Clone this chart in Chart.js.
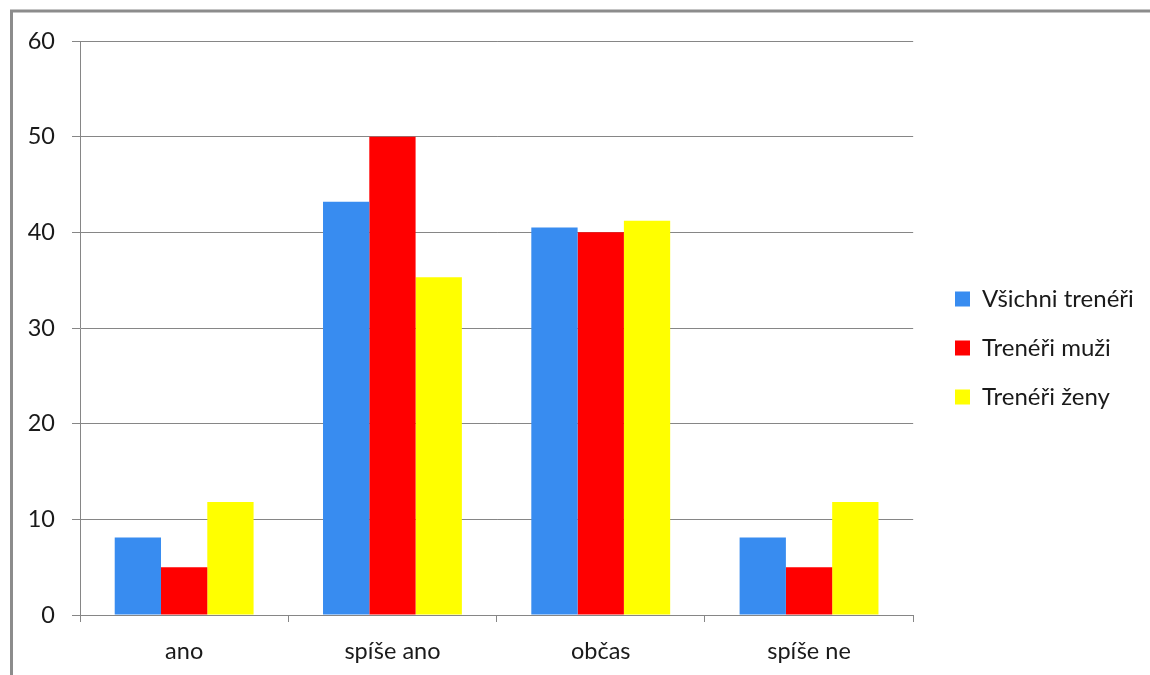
<!DOCTYPE html>
<html>
<head>
<meta charset="utf-8">
<script src="https://cdn.jsdelivr.net/npm/chart.js@4/dist/chart.umd.min.js"></script>
<style>
html,body{margin:0;padding:0;background:#fff;overflow:hidden;}
#wrap{width:1150px;height:675px;position:relative;}
</style>
</head>
<body>
<div id="wrap"><canvas id="c" width="1150" height="675"></canvas></div>
<script>
const categories = ["ano", "spíše ano", "občas", "spíše ne"];
const seriesNames = ["Všichni trenéři", "Trenéři muži", "Trenéři ženy"];
const allCoaches = [8.1, 43.2, 40.5, 8.1];
const maleCoaches = [5, 50, 40, 5];
const femaleCoaches = [11.8, 35.3, 41.2, 11.8];
const yTicks = [0, 10, 20, 30, 40, 50, 60];

const colors = ["#388cf0", "#ff0000", "#ffff00"];
const FONT = "Lato, 'Open Sans', sans-serif";
const LEGEND_BOX_X = 955;
const LEGEND_DY = -10;

const framePlugin = {
  id: 'frame',
  beforeDraw(chart) {
    const ctx = chart.ctx;
    ctx.save();
    ctx.fillStyle = '#ffffff';
    ctx.fillRect(0, 0, chart.width, chart.height);
    ctx.strokeStyle = '#8c8c8c';
    ctx.lineWidth = 3;
    ctx.beginPath();
    ctx.moveTo(11.5, chart.height + 5);
    ctx.lineTo(11.5, 11);
    ctx.lineTo(chart.width + 5, 11);
    ctx.stroke();
    ctx.restore();
  }
};

const legendShift = {
  id: 'legendShift',
  afterLayout(chart) {
    const lg = chart.legend;
    if (!lg) return;
    const pad = lg.options.labels.padding;
    const dx = LEGEND_BOX_X - (lg.left + pad);
    lg.left += dx; lg.right += dx;
    lg.top += LEGEND_DY; lg.bottom += LEGEND_DY;
  }
};

new Chart(document.getElementById('c'), {
  type: 'bar',
  data: {
    labels: categories,
    datasets: [
      { label: seriesNames[0], data: allCoaches, backgroundColor: colors[0] },
      { label: seriesNames[1], data: maleCoaches, backgroundColor: colors[1] },
      { label: seriesNames[2], data: femaleCoaches, backgroundColor: colors[2] }
    ]
  },
  options: {
    responsive: false,
    animation: false,
    devicePixelRatio: 1,
    categoryPercentage: 3 / 4.5,
    barPercentage: 1.0,
    layout: { padding: { top: 41, left: 0, right: 23, bottom: 0 } },
    plugins: {
      tooltip: { enabled: false },
      legend: {
        position: 'right',
        labels: {
          boxWidth: 15,
          boxHeight: 15,
          padding: 25,
          color: '#1a1a1a',
          font: { family: FONT, size: 24 }
        }
      }
    },
    scales: {
      x: {
        afterFit(scale) { scale.height = 60; },
        grid: { offset: true, drawOnChartArea: false, color: '#868686', tickLength: 7 },
        border: { color: '#868686' },
        ticks: { color: '#1a1a1a', font: { family: FONT, size: 23.5 }, padding: 15 }
      },
      y: {
        min: 0, max: 60,
        afterFit(scale) { scale.width = 80; },
        afterBuildTicks(scale) { scale.ticks = yTicks.map(v => ({ value: v })); },
        grid: { color: '#868686', tickLength: 8 },
        border: { color: '#868686' },
        ticks: { color: '#1a1a1a', font: { family: FONT, size: 23.5 }, padding: 17 }
      }
    }
  },
  plugins: [framePlugin, legendShift]
});
</script>
</body>
</html>
